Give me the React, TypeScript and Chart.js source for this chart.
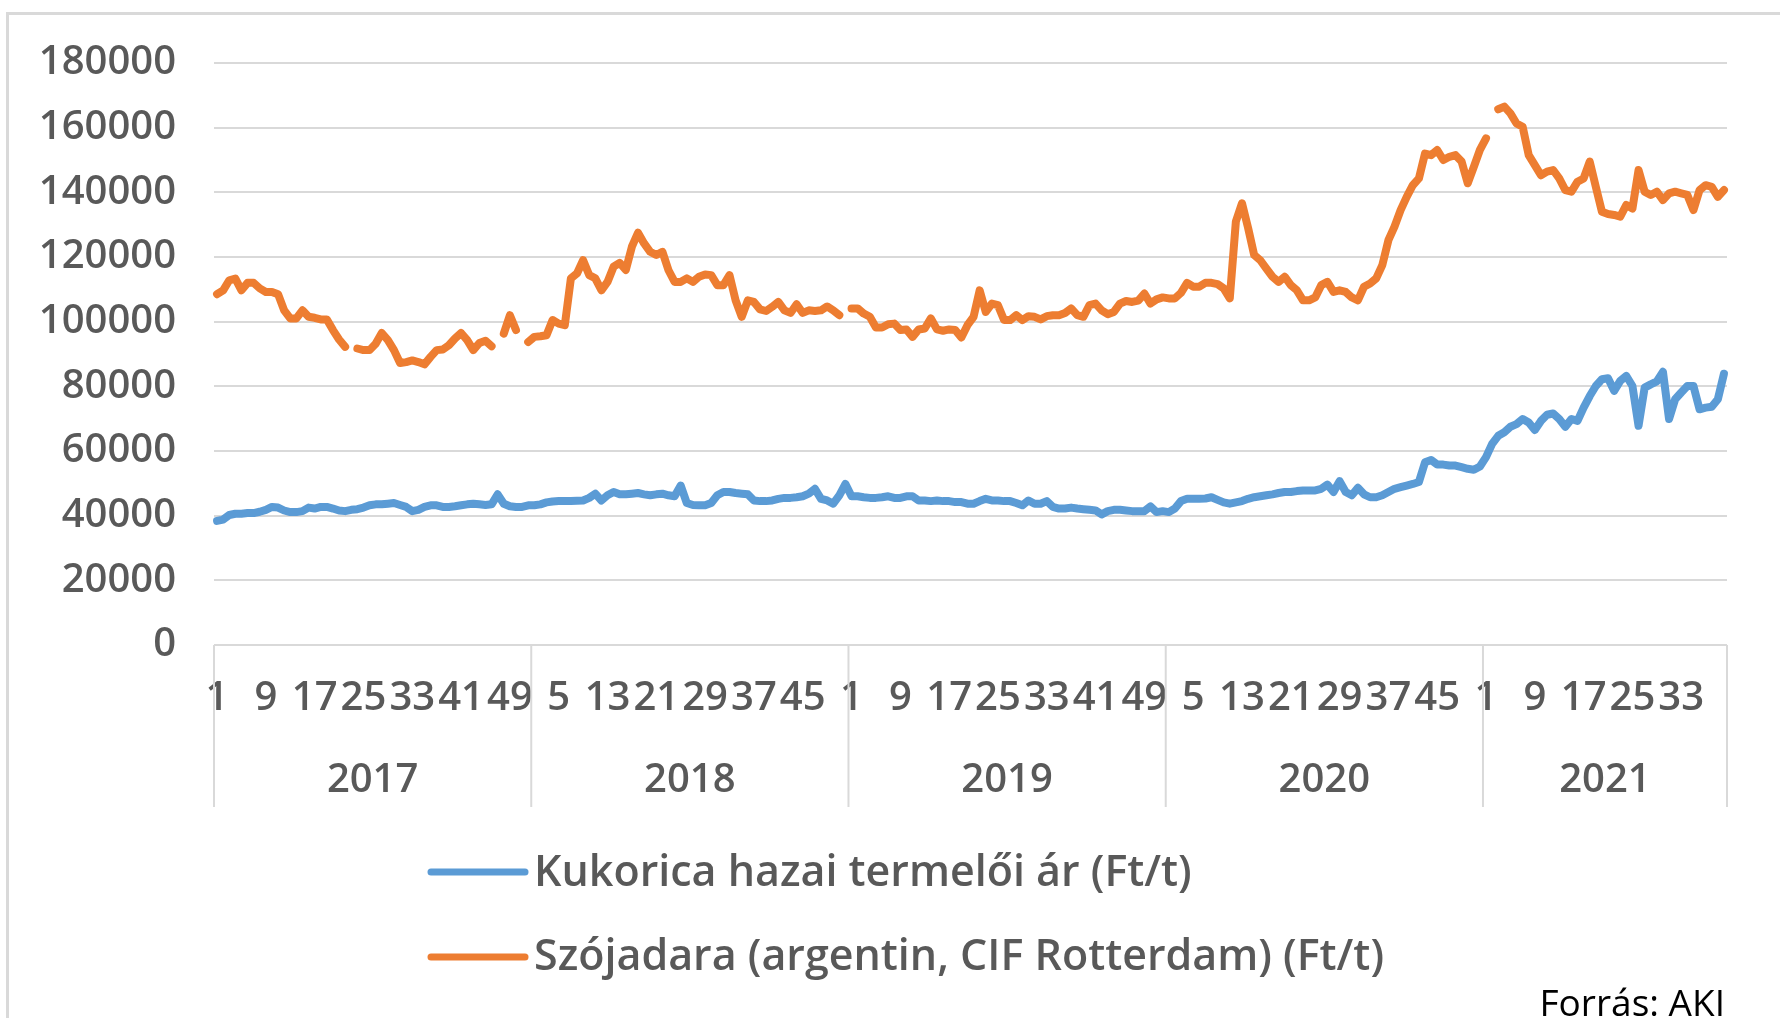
import React, { useEffect, useRef } from 'react';
import { Chart, registerables } from 'chart.js';

Chart.register(...registerables);

const years = ['2017', '2018', '2019', '2020', '2021'];

const corn2017 = [38400, 38800, 40200, 40600, 40600, 40800, 40800, 41200, 41800, 42700, 42500, 41600, 41100, 41100, 41400, 42500, 42200, 42700, 42700, 42200, 41600, 41400, 41800, 42000, 42500, 43200, 43500, 43500, 43700, 43900, 43300, 42700, 41400, 41800, 42700, 43200, 43200, 42700, 42700, 42900, 43200, 43500, 43700, 43500, 43300, 43500, 46600, 43700, 42900, 42700, 42700, 43200];
const corn2018 = [43200, 43500, 44100, 44400, 44500, 44500, 44500, 44600, 44700, 45500, 46800, 44700, 46300, 47300, 46600, 46600, 46800, 47000, 46600, 46300, 46600, 46800, 46300, 46000, 49300, 43900, 43300, 43200, 43200, 43900, 46300, 47300, 47300, 47000, 46800, 46600, 44700, 44500, 44500, 44700, 45200, 45500, 45500, 45700, 46000, 46800, 48300, 45200, 44700, 43700, 46300, 49800];
const corn2019 = [46000, 46000, 45700, 45500, 45500, 45700, 46000, 45500, 45500, 46000, 46000, 44700, 44700, 44500, 44700, 44500, 44500, 44200, 44200, 43700, 43700, 44500, 45200, 44700, 44700, 44500, 44500, 43900, 43200, 44700, 43700, 43700, 44500, 42700, 42200, 42200, 42500, 42200, 42000, 41800, 41600, 40400, 41400, 41800, 41800, 41600, 41400, 41400, 41400, 42900, 41100, 41400];
const corn2020 = [41100, 42200, 44500, 45200, 45200, 45200, 45300, 45700, 44900, 44100, 43700, 44100, 44500, 45200, 45700, 46000, 46300, 46600, 47000, 47300, 47300, 47600, 47800, 47800, 47800, 48300, 49600, 47300, 50700, 47300, 46300, 48600, 46600, 45700, 45700, 46300, 47300, 48300, 48800, 49300, 49800, 50400, 56500, 57200, 55800, 55800, 55500, 55500, 55000, 54500, 54200, 55200];
const corn2021 = [58100, 62200, 64700, 65800, 67500, 68300, 69900, 68800, 66500, 69300, 71200, 71600, 69900, 67500, 69900, 69300, 73400, 77000, 80100, 82200, 82500, 78600, 81700, 83200, 80100, 67800, 79600, 80600, 81500, 84500, 69900, 76000, 78100, 80100, 80100, 72900, 73400, 73700, 76000, 83900];

const soy2017 = [108500, 109700, 112800, 113300, 109700, 112000, 112000, 110300, 109200, 109200, 108500, 103500, 101000, 101000, 103500, 101500, 101200, 100700, 100700, 97400, 94500, 92200, null, 91700, 91200, 91200, 93200, 96500, 94300, 91200, 87200, 87500, 88000, 87500, 86800, 89100, 91200, 91400, 92700, 94800, 96500, 94300, 91200, 93400, 94100, 92400, null, 96300, 102000, 97400, null, 93700];
const soy2018 = [95300, 95500, 95800, 100500, 99400, 98900, 113400, 114900, 119000, 114400, 113400, 109700, 112300, 117000, 118200, 116000, 123200, 127500, 124200, 121600, 120600, 121600, 115900, 112300, 112300, 113400, 112300, 113900, 114600, 114400, 111300, 111300, 114400, 106600, 101500, 106600, 106100, 103800, 103300, 104600, 106100, 103500, 102700, 105400, 102700, 103500, 103300, 103500, 104700, 103500, 102000, null];
const soy2019 = [104100, 104100, 102500, 101500, 98200, 98200, 99200, 99400, 97400, 97600, 95300, 97600, 97900, 101000, 97600, 97200, 97600, 97400, 95100, 98900, 101500, 109700, 103000, 105600, 105100, 100500, 100500, 102000, 100500, 101700, 101500, 100700, 101700, 102000, 102000, 102700, 104100, 102000, 101500, 105100, 105600, 103500, 102300, 103000, 105600, 106400, 106100, 106500, 108700, 105600, 106900, 107500];
const soy2020 = [107200, 107200, 108900, 112000, 110800, 110800, 112000, 112000, 111600, 110300, 107200, 131000, 136600, 129000, 120600, 119000, 116400, 113900, 112300, 113900, 111300, 109700, 106600, 106600, 107500, 111300, 112300, 109200, 109700, 109200, 107500, 106600, 110800, 111800, 113400, 117500, 125200, 129400, 134500, 138600, 142200, 144300, 152000, 151500, 153100, 150000, 151000, 151500, 149500, 142800, 147900, 153100];
const soy2021 = [156700, null, 165700, 166500, 164400, 161300, 160300, 151500, 148400, 145300, 146400, 146900, 144300, 140700, 140200, 143300, 144300, 149500, 141700, 134000, 133300, 133000, 132500, 136100, 135000, 146900, 140200, 139200, 140200, 137600, 139700, 140200, 139700, 139200, 134500, 140700, 142200, 141700, 138600, 140700];

const seriesLabels = ['Kukorica hazai termelői ár (Ft/t)', 'Szójadara (argentin, CIF Rotterdam) (Ft/t)'];
const seriesColors = ['#5B9BD5', '#ED7D31'];
const sourceText = 'Forrás: AKI';

const cornByYear = [corn2017, corn2018, corn2019, corn2020, corn2021];
const soyByYear = [soy2017, soy2018, soy2019, soy2020, soy2021];
const weekCounts = cornByYear.map((a) => a.length);
const cornValues = cornByYear.flat();
const soyValues = soyByYear.flat();
const categories: string[] = [];
const weekNumbers: string[] = [];
years.forEach((y, k) => {
  for (let w = 1; w <= weekCounts[k]; w++) {
    categories.push(y + '/' + w);
    weekNumbers.push(String(w));
  }
});

const FONT = '"Open Sans", "Noto Sans", sans-serif';
const TEXT = '#595959';
const GRID = '#D9D9D9';

const decor = {
  id: 'decor',
  beforeDraw(chart: any) {
    const ctx = chart.ctx;
    ctx.save();
    ctx.fillStyle = '#FFFFFF';
    ctx.fillRect(0, 0, chart.width, chart.height);
    ctx.fillStyle = GRID;
    ctx.fillRect(6, 12, 3, chart.height);
    ctx.fillRect(6, 12, chart.width, 3);
    ctx.restore();
  },
  afterDraw(chart: any) {
    const ctx = chart.ctx;
    const xs = chart.scales.x;
    const area = chart.chartArea;
    const half = (xs.getPixelForValue(1) - xs.getPixelForValue(0)) / 2;
    const bounds = [0];
    weekCounts.forEach((n) => bounds.push(bounds[bounds.length - 1] + n));
    const px = bounds.map((b) => xs.getPixelForValue(b) - half);
    ctx.save();
    ctx.strokeStyle = GRID;
    ctx.lineWidth = 2;
    px.forEach((p) => {
      ctx.beginPath();
      ctx.moveTo(p, area.bottom);
      ctx.lineTo(p, 807);
      ctx.stroke();
    });
    ctx.fillStyle = TEXT;
    ctx.font = '600 40px ' + FONT;
    ctx.textAlign = 'center';
    ctx.textBaseline = 'alphabetic';
    years.forEach((y, k) => {
      ctx.fillText(y, (px[k] + px[k + 1]) / 2, 792);
    });
    // legend
    const legendY = [872, 957];
    const baseY = [886, 970];
    seriesLabels.forEach((lab, k) => {
      ctx.strokeStyle = seriesColors[k];
      ctx.lineWidth = 7;
      ctx.lineCap = 'round';
      ctx.beginPath();
      ctx.moveTo(431, legendY[k]);
      ctx.lineTo(525, legendY[k]);
      ctx.stroke();
      ctx.fillStyle = TEXT;
      ctx.font = '600 43px ' + FONT;
      ctx.textAlign = 'left';
      ctx.fillText(lab, 534, baseY[k]);
    });
    ctx.fillStyle = '#000000';
    ctx.font = '400 37px ' + FONT;
    ctx.textAlign = 'right';
    ctx.fillText(sourceText, 1725, 1016);
    ctx.restore();
  },
};

export default function App() {
  const ref = useRef<HTMLCanvasElement | null>(null);
  useEffect(() => {
    if (!ref.current) return;
    const chart = new Chart(ref.current, {
      type: 'line',
      data: {
        labels: categories,
        datasets: [
          {
            label: seriesLabels[0],
            data: cornValues,
            borderColor: seriesColors[0],
            backgroundColor: seriesColors[0],
            borderWidth: 8,
            pointRadius: 0,
            tension: 0,
            fill: false,
            spanGaps: false,
            borderJoinStyle: 'round',
            borderCapStyle: 'round',
          },
          {
            label: seriesLabels[1],
            data: soyValues,
            borderColor: seriesColors[1],
            backgroundColor: seriesColors[1],
            borderWidth: 8,
            pointRadius: 0,
            tension: 0,
            fill: false,
            spanGaps: false,
            borderJoinStyle: 'round',
            borderCapStyle: 'round',
          },
        ],
      },
      options: {
        responsive: false,
        animation: false,
        devicePixelRatio: 1,
        layout: { padding: { left: 0, right: 53, top: 63, bottom: 0 } },
        plugins: { legend: { display: false }, tooltip: { enabled: false } },
        scales: {
          x: {
            type: 'category',
            offset: true,
            grid: { display: false, drawTicks: false },
            border: { display: false },
            ticks: {
              autoSkip: false,
              maxRotation: 0,
              minRotation: 0,
              padding: 30,
              color: TEXT,
              font: { family: FONT, size: 40, weight: '600' },
              callback: (_v: any, i: number) => (i % 8 === 0 ? weekNumbers[i] : ''),
            },
            afterFit: (s: any) => {
              s.height = 373;
            },
          },
          y: {
            min: 0,
            max: 180000,
            ticks: {
              stepSize: 20000,
              padding: 38,
              color: TEXT,
              font: { family: FONT, size: 40, weight: '600' },
              callback: (v: any) => String(v),
            },
            grid: { color: GRID, lineWidth: 2, drawTicks: false },
            border: { display: false },
            afterFit: (s: any) => {
              s.width = 214;
            },
          },
        },
      } as any,
      plugins: [decor],
    });
    return () => chart.destroy();
  }, []);
  return (
    <div style={{ position: 'absolute', left: 0, top: 0, width: 1780, height: 1018, background: '#fff' }}>
      <canvas ref={ref} width={1780} height={1018} style={{ display: 'block', width: 1780, height: 1018 }} />
    </div>
  );
}
